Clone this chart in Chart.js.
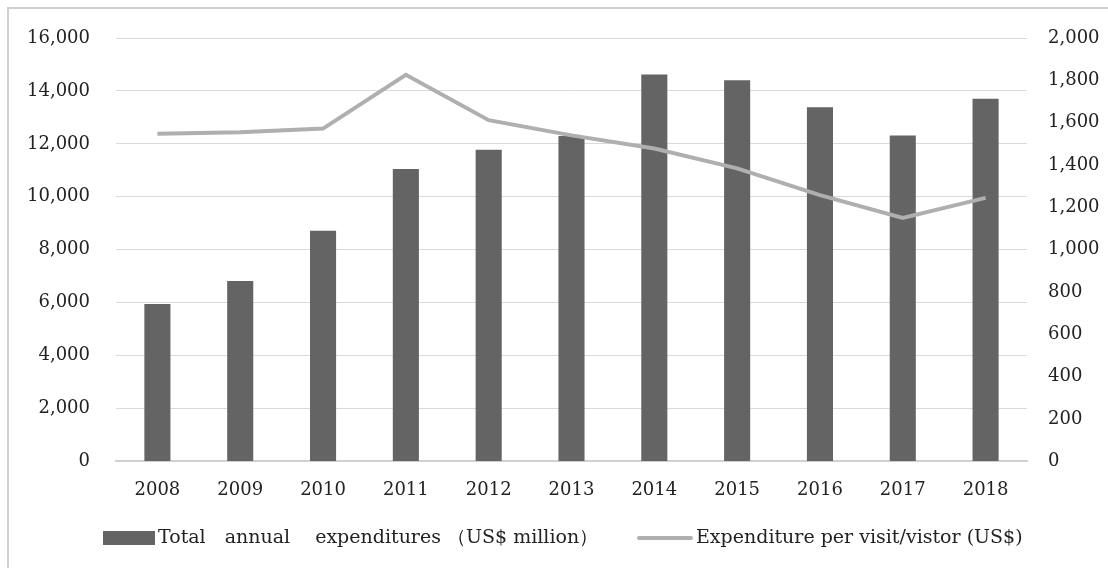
<!DOCTYPE html>
<html>
<head>
<meta charset="utf-8">
<script src="https://cdn.jsdelivr.net/npm/chart.js@4.4.1/dist/chart.umd.min.js"></script>
<style>
  html, body { margin: 0; padding: 0; background: #ffffff; }
  #wrap { width: 1108px; height: 568px; }
</style>
</head>
<body>
<div id="wrap"><canvas id="c" width="1108" height="568"></canvas></div>
<script>
// Years on the category axis
const years = ['2008', '2009', '2010', '2011', '2012', '2013', '2014', '2015', '2016', '2017', '2018'];
// Total annual expenditures, US$ million (left axis)
const totalExpenditures = [5950, 6820, 8720, 11050, 11780, 12300, 14620, 14400, 13380, 12320, 13700];
// Expenditure per visit/visitor, US$ (right axis)
const perVisitor = [1548, 1555, 1572, 1826, 1612, 1540, 1478, 1384, 1258, 1150, 1245];
// Axis ranges and steps
const leftTicks = { min: 0, max: 16000, step: 2000 };
const rightTicks = { min: 0, max: 2000, step: 200 };
// Legend texts
const barLabel = 'Total\u2003annual\u2003 expenditures \uFF08US$ million\uFF09';
const lineLabel = 'Expenditure per visit/vistor (US$)';

const BAR_COLOR = '#646464';
const LINE_COLOR = '#afafaf';
const TEXT_COLOR = '#222222';
const FONT = "'DejaVu Serif', serif";

// Outer frame around the figure (left and top edges)
const framePlugin = {
  id: 'frame',
  beforeDraw(chart) {
    const ctx = chart.ctx;
    ctx.save();
    ctx.fillStyle = '#ffffff';
    ctx.fillRect(0, 0, chart.width, chart.height);
    ctx.strokeStyle = '#d0d0d0';
    ctx.lineWidth = 2;
    ctx.beginPath();
    ctx.moveTo(8, chart.height + 2);
    ctx.lineTo(8, 8);
    ctx.lineTo(chart.width + 2, 8);
    ctx.stroke();
    ctx.restore();
  }
};

// Legend row drawn under the category axis, swatch flush against its text
const legendRow = {
  id: 'legendRow',
  afterDraw(chart) {
    const ctx = chart.ctx;
    const y = 538;
    const bars = chart.data.datasets.find(d => d.type === 'bar');
    const line = chart.data.datasets.find(d => d.type === 'line');
    ctx.save();
    ctx.font = '19px ' + FONT;
    ctx.textBaseline = 'middle';
    ctx.textAlign = 'left';
    // bar swatch
    ctx.fillStyle = bars.backgroundColor;
    ctx.fillRect(103, y - 7, 52, 14);
    ctx.fillStyle = TEXT_COLOR;
    ctx.fillText(bars.label, 158, y);
    // line swatch
    ctx.strokeStyle = line.borderColor;
    ctx.lineWidth = 4;
    ctx.lineCap = 'round';
    ctx.beginPath();
    ctx.moveTo(639, y);
    ctx.lineTo(691, y);
    ctx.stroke();
    ctx.fillText(line.label, 696, y);
    ctx.restore();
  }
};

Chart.defaults.font.family = FONT;
Chart.defaults.font.size = 18;
Chart.defaults.color = TEXT_COLOR;

new Chart(document.getElementById('c'), {
  data: {
    labels: years,
    datasets: [
      {
        type: 'line',
        label: lineLabel,
        data: perVisitor,
        yAxisID: 'yRight',
        borderColor: LINE_COLOR,
        backgroundColor: LINE_COLOR,
        borderWidth: 4,
        pointRadius: 0,
        tension: 0,
        order: 0
      },
      {
        type: 'bar',
        label: barLabel,
        data: totalExpenditures,
        yAxisID: 'yLeft',
        backgroundColor: BAR_COLOR,
        barPercentage: 0.63,
        categoryPercentage: 0.5,
        order: 1
      }
    ]
  },
  options: {
    responsive: false,
    animation: false,
    locale: 'en-US',
    layout: { padding: { top: 38, left: 0, right: 0, bottom: 49 } },
    plugins: {
      legend: { display: false },
      tooltip: { enabled: false }
    },
    scales: {
      x: {
        grid: { display: false, drawTicks: false },
        border: { display: true, color: '#d0d0d0', width: 2 },
        ticks: { padding: 18, font: { size: 18 } }
      },
      yLeft: {
        position: 'left',
        min: leftTicks.min,
        max: leftTicks.max,
        afterFit(scale) { scale.width = 116; },
        ticks: { stepSize: leftTicks.step, padding: 26 },
        grid: { color: '#d9d9d9', lineWidth: 1, drawTicks: false },
        border: { display: false }
      },
      yRight: {
        position: 'right',
        min: rightTicks.min,
        max: rightTicks.max,
        afterFit(scale) { scale.width = 81; },
        ticks: { stepSize: rightTicks.step, padding: 21 },
        grid: { display: false, drawTicks: false },
        border: { display: false }
      }
    }
  },
  plugins: [framePlugin, legendRow]
});
</script>
</body>
</html>
